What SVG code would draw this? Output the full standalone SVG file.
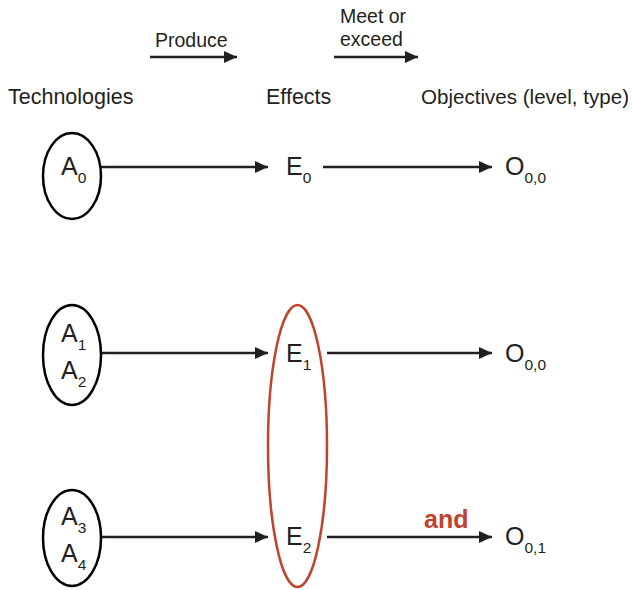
<svg xmlns="http://www.w3.org/2000/svg" width="632" height="590" viewBox="0 0 632 590">
  <defs>
    <marker id="arrow" markerUnits="userSpaceOnUse" markerWidth="13" markerHeight="12" refX="13" refY="6" orient="auto">
      <path d="M0,0 L13,6 L0,12 z" fill="#231f20"/>
    </marker>
    <style>
      text { font-family: "Liberation Sans", Arial, sans-serif; fill: #231f20; }
      .hdr { font-size: 21.5px; }
      .verb { font-size: 19.5px; }
      .sym { font-size: 25px; }
      .sub { font-size: 15.5px; }
      .and { font-size: 25px; font-weight: bold; fill: #c0432b; }
      .edge { stroke: #231f20; stroke-width: 2.5; fill: none; marker-end: url(#arrow); }
      .tech { fill: none; stroke: #000; stroke-width: 2.5; }
      .group { fill: none; stroke: #c0432b; stroke-width: 2.5; }
    </style>
  </defs>

  <!-- column headers and verbs -->
  <g id="legend">
    <text class="verb" x="155" y="47">Produce</text>
    <text class="verb" x="340" y="23">Meet or</text>
    <text class="verb" x="340" y="46">exceed</text>
    <text class="hdr" x="8" y="104">Technologies</text>
    <text class="hdr" x="266" y="104">Effects</text>
    <text class="hdr" x="421" y="104" style="font-size:21px" textLength="208" lengthAdjust="spacingAndGlyphs">Objectives (level, type)</text>
  </g>

  <!-- connectors -->
  <g id="connectors">
    <line class="edge" x1="150" y1="57" x2="237" y2="57"/>
    <line class="edge" x1="334" y1="57" x2="418" y2="57"/>
    <line class="edge" x1="101" y1="167" x2="268" y2="167"/>
    <line class="edge" x1="323" y1="167" x2="492" y2="167"/>
    <line class="edge" x1="101" y1="353" x2="268" y2="353"/>
    <line class="edge" x1="327" y1="353" x2="492" y2="353"/>
    <line class="edge" x1="101" y1="537" x2="268" y2="537"/>
    <line class="edge" x1="327" y1="537" x2="492" y2="537"/>
    <text class="and" x="424" y="528">and</text>
  </g>

  <!-- technologies -->
  <g id="tech-a0">
    <ellipse class="tech" cx="72" cy="176" rx="29" ry="43"/>
    <text class="sym" x="61" y="175">A<tspan class="sub" dy="8">0</tspan></text>
  </g>
  <g id="tech-a1-a2">
    <ellipse class="tech" cx="72" cy="355" rx="29" ry="50"/>
    <text class="sym" x="61" y="342">A<tspan class="sub" dy="8">1</tspan></text>
    <text class="sym" x="61" y="379">A<tspan class="sub" dy="8">2</tspan></text>
  </g>
  <g id="tech-a3-a4">
    <ellipse class="tech" cx="72" cy="538" rx="29" ry="48"/>
    <text class="sym" x="61" y="525">A<tspan class="sub" dy="8">3</tspan></text>
    <text class="sym" x="61" y="562">A<tspan class="sub" dy="8">4</tspan></text>
  </g>

  <!-- effects -->
  <g id="effect-e0">
    <text class="sym" x="286" y="175">E<tspan class="sub" dy="8">0</tspan></text>
  </g>
  <g id="effect-group">
    <ellipse class="group" cx="297.5" cy="446" rx="29.5" ry="141"/>
  </g>
  <g id="effect-e1">
    <text class="sym" x="286" y="362">E<tspan class="sub" dy="8">1</tspan></text>
  </g>
  <g id="effect-e2">
    <text class="sym" x="286" y="545">E<tspan class="sub" dy="8">2</tspan></text>
  </g>

  <!-- objectives -->
  <g id="objective-top">
    <text class="sym" x="505" y="175">O<tspan class="sub" dy="8">0,0</tspan></text>
  </g>
  <g id="objective-mid">
    <text class="sym" x="505" y="362">O<tspan class="sub" dy="8">0,0</tspan></text>
  </g>
  <g id="objective-bottom">
    <text class="sym" x="505" y="545">O<tspan class="sub" dy="8">0,1</tspan></text>
  </g>
</svg>
